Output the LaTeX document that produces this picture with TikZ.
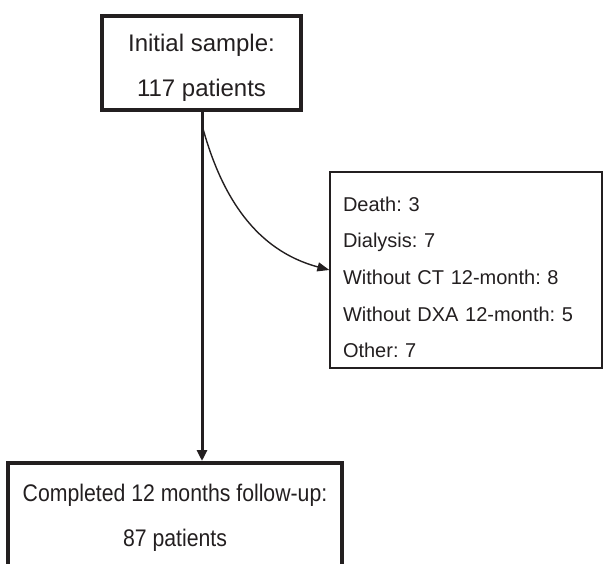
\documentclass[tikz,border=0pt]{standalone}
\usepackage{fontspec}
\setmainfont{Liberation Sans}
\newfontfamily\narrowsans[FakeStretch=0.885]{Liberation Sans}
\usetikzlibrary{arrows.meta}
\definecolor{ink}{HTML}{231F20}
\frenchspacing
\begin{document}
\begin{tikzpicture}[x=1pt,y=-1pt,
  thickbox/.style={draw=ink,line width=4pt,rectangle,inner sep=0pt,align=center,text=ink,font=\fontsize{24}{45}\selectfont},
  thinbox/.style={draw=ink,line width=1.3pt,rectangle,inner sep=0pt,text=ink,font=\fontsize{20}{36.7}\selectfont},
  mainarrow/.style={draw=ink,line width=3pt,-{Triangle[length=11pt,width=10pt]}},
  sidearrow/.style={draw=ink,line width=1.4pt,-{Triangle[length=12pt,width=9pt]}}]
\useasboundingbox (0,0) rectangle (603,563);
\clip (0,0) rectangle (603,563);
\node[thickbox,minimum width=199pt,minimum height=94pt] (init) at (201.5,63) {\rule{0pt}{26pt}Initial sample:\\117 patients};
\node[thinbox,minimum width=272pt,minimum height=196pt,text width=246pt,align=left] (excl) at (466,270)
  {\rule{0pt}{29pt}Death: 3\\Dialysis: 7\\Without CT 12-month: 8\\Without DXA 12-month: 5\\Other: 7};
\node[thickbox,minimum width=334pt,minimum height=109pt,anchor=north,font=\narrowsans\fontsize{24}{45}\selectfont] (done) at (175,461)
  {Completed 12 months follow-up:\\87 patients};
\coordinate (split) at (202,125);
\draw[mainarrow] (init.south -| split) -- (split |- done.north);
\draw[sidearrow] (split) to[out=-75,in=165] (excl.west);
\end{tikzpicture}
\end{document}
